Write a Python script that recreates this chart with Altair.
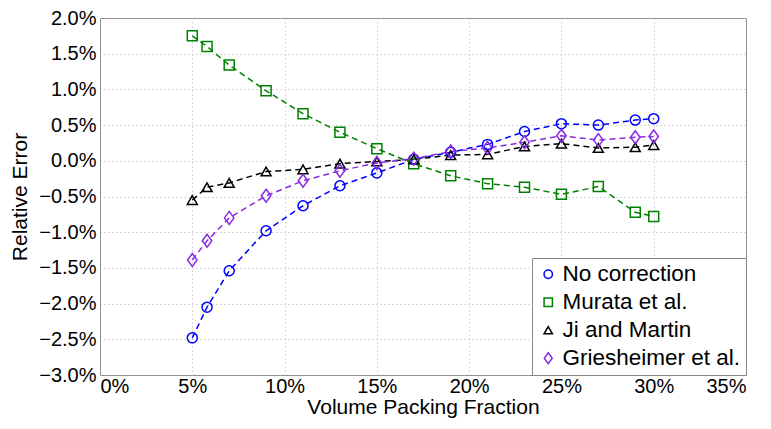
import altair as alt
import pandas as pd

x_vals = [5, 5.8, 7, 9, 11, 13, 15, 17, 19, 21, 23, 25, 27, 29, 30]
no_correction = [-2.48, -2.05, -1.54, -0.98, -0.63, -0.35, -0.17, 0.02, 0.12, 0.23, 0.41, 0.52, 0.50, 0.57, 0.59]
murata = [1.75, 1.60, 1.34, 0.98, 0.66, 0.40, 0.17, -0.04, -0.21, -0.32, -0.37, -0.47, -0.36, -0.72, -0.78]
ji_martin = [-0.55, -0.37, -0.31, -0.15, -0.12, -0.04, -0.01, 0.02, 0.08, 0.09, 0.20, 0.24, 0.18, 0.19, 0.22]
griesheimer = [-1.39, -1.12, -0.80, -0.49, -0.28, -0.14, -0.03, 0.03, 0.13, 0.18, 0.26, 0.35, 0.29, 0.33, 0.34]

series_names = ["No correction", "Murata et al.", "Ji and Martin", "Griesheimer et al."]
series_colors = ["#0000FF", "#008000", "#000000", "#8A2BE2"]
series_shapes = ["circle", "square", "triangle-up", "M0,-1.3L0.95,0L0,1.3L-0.95,0Z"]

x_ticks = [0, 5, 10, 15, 20, 25, 30, 35]
y_ticks = [2.0, 1.5, 1.0, 0.5, 0.0, -0.5, -1.0, -1.5, -2.0, -2.5, -3.0]

rows = []
for name, vals in zip(series_names, [no_correction, murata, ji_martin, griesheimer]):
    for xv, yv in zip(x_vals, vals):
        rows.append({"x": xv, "y": yv, "series": name})
df = pd.DataFrame(rows)

FONT = "Liberation Sans"

x_enc = alt.X("x:Q", scale=alt.Scale(domain=[0, 35], nice=False),
              axis=alt.Axis(values=x_ticks, title="Volume Packing Fraction",
                            labelExpr="datum.value + '%'"))
y_enc = alt.Y("y:Q", scale=alt.Scale(domain=[-3, 2], nice=False),
              axis=alt.Axis(values=y_ticks, title="Relative Error",
                            labelExpr="format(datum.value, '.1f') + '%'"))
legend = alt.Legend(title=None, orient="bottom-right", offset=0,
                    strokeColor="#888888", fillColor="white",
                    padding=5, labelFontSize=22.5, labelFont=FONT, labelColor="black",
                    symbolStrokeWidth=1.5, symbolSize=70,
                    symbolFillColor="transparent",
                    rowPadding=5, labelLimit=300, symbolOffset=0,
                    labelOffset=3)
color_enc = alt.Color("series:N", scale=alt.Scale(domain=series_names, range=series_colors),
                      legend=legend)
shape_enc = alt.Shape("series:N", scale=alt.Scale(domain=series_names, range=series_shapes),
                      legend=legend)

lines = alt.Chart(df).mark_line(strokeDash=[6, 4], strokeWidth=1.5).encode(
    x=x_enc, y=y_enc, color=color_enc, detail="series:N")
points = alt.Chart(df).mark_point(filled=False, size=100, strokeWidth=1.5, opacity=1).encode(
    x=x_enc, y=y_enc, color=color_enc, shape=shape_enc)

chart = alt.layer(lines, points).properties(
    width=646, height=357,
    autosize=alt.AutoSizeParams(type="none"),
    padding={"left": 92, "top": 10, "right": 17, "bottom": 46},
).configure_view(
    stroke="#888888", strokeWidth=1
).configure_axis(
    grid=True, gridColor="#b0b0b0", gridDash=[1, 3], gridWidth=1,
    domain=False, ticks=False,
    labelFont=FONT, labelFontSize=20, labelColor="black",
    titleFont=FONT, titleFontSize=21, titleFontWeight="normal", titleColor="black",
).configure_axisY(titlePadding=8, labelPadding=4).configure_axisX(titlePadding=0, labelPadding=1)

chart.save("out.html", embed_options={"renderer": "svg", "actions": False})
